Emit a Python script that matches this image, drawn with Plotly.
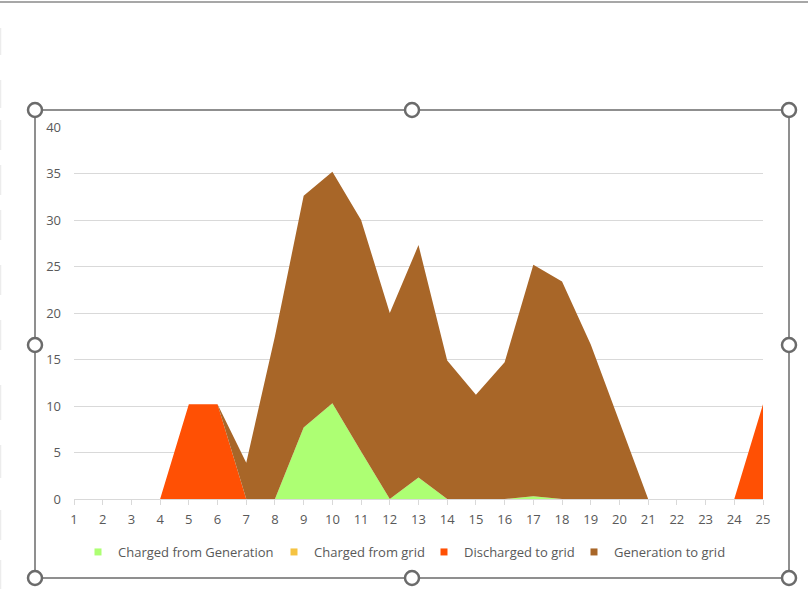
import plotly.graph_objects as go

hours = list(range(1, 26))
charged_from_generation = [0, 0, 0, 0, 0, 0, 0, 0, 7.7, 10.3, 5.1, 0, 2.3, 0, 0, 0, 0.3, 0, 0, 0, 0, 0, 0, 0, 0]
charged_from_grid = [0] * 25
discharged_to_grid = [0, 0, 0, 0, 10.2, 10.2, 0, 0, 0, 0, 0, 0, 0, 0, 0, 0, 0, 0, 0, 0, 0, 0, 0, 0, 10.2]
generation_to_grid = [0, 0, 0, 0, 0, 0, 3.9, 17.5, 24.9, 24.9, 24.9, 20.0, 25.0, 14.9, 11.2, 14.7, 24.9, 23.4, 16.6, 8.2, 0, 0, 0, 0, 0]
y_ticks = [0, 5, 10, 15, 20, 25, 30, 35, 40]

series = [
    ("Charged from Generation", charged_from_generation, "#ADFF73"),
    ("Charged from grid", charged_from_grid, "#F5C342"),
    ("Discharged to grid", discharged_to_grid, "#FF5004"),
    ("Generation to grid", generation_to_grid, "#A86628"),
]
legend_widths = [151, 105, 105, 110]

fig = go.Figure()
for i, (name, vals, col) in enumerate(series):
    fig.add_trace(go.Scatter(
        x=hours, y=vals, name=name, mode="lines", stackgroup="one",
        line=dict(width=0, color=col), fillcolor=col, showlegend=False,
        legendgroup=f"g{i}",
    ))
# legend entries with small square markers
for i, (name, vals, col) in enumerate(series):
    fig.add_trace(go.Scatter(
        x=[None], y=[None], name=name, mode="markers",
        marker=dict(symbol="square", size=7, color=col), legendgroup=f"g{i}",
        legendwidth=legend_widths[i],
    ))

W, H = 808, 589
L, R, T, B = 74, 763, 127, 499
pw, ph = R - L, B - T

def px(x):
    return (x - L) / pw

def py(y):
    return (B - y) / ph

shapes = []
# frame
shapes.append(dict(type="rect", xref="paper", yref="paper", x0=px(35), x1=px(789), y0=py(578), y1=py(110),
                   line=dict(color="#6b6b6b", width=1.5), fillcolor="rgba(0,0,0,0)", layer="above"))
# top window line
shapes.append(dict(type="line", xref="paper", yref="paper", x0=px(0), x1=px(808), y0=py(2), y1=py(2),
                   line=dict(color="#8a8a8a", width=1.5)))
# faint marks at left edge
for y0, y1 in [(28, 55), (80, 108), (120, 150), (165, 195), (210, 240), (265, 295), (320, 350),
               (385, 420), (445, 478), (510, 540), (560, 589)]:
    shapes.append(dict(type="line", xref="paper", yref="paper", x0=px(0.5), x1=px(0.5), y0=py(y0), y1=py(y1),
                       line=dict(color="#ececec", width=1.5)))
# handles
r = 7
for hx in (35, 412, 789):
    for hy in (110, 345, 578):
        if hx == 412 and hy == 345:
            continue
        shapes.append(dict(type="circle", xref="paper", yref="paper",
                           x0=px(hx - r), x1=px(hx + r), y0=py(hy + r), y1=py(hy - r),
                           line=dict(color="#6b6b6b", width=2.5), fillcolor="white", layer="above"))

fig.update_layout(
    width=W, height=H,
    margin=dict(l=L, r=W - R, t=T, b=H - B, autoexpand=False),
    paper_bgcolor="white", plot_bgcolor="white",
    font=dict(family="Open Sans, sans-serif", size=13, color="#595959"),
    showlegend=True,
    legend=dict(orientation="h", x=px(78), xanchor="left", y=py(552), yanchor="middle",
                traceorder="normal", font=dict(size=13, color="#595959"), itemwidth=30,
                tracegroupgap=0, itemclick=False, itemdoubleclick=False,
                bgcolor="rgba(0,0,0,0)"),
    shapes=shapes,
    xaxis=dict(range=[1, 25], tickmode="array", tickvals=hours, ticktext=[str(h) for h in hours],
               showgrid=False, zeroline=False, showline=True, linecolor="#d9d9d9", linewidth=1,
               ticks="outside", ticklen=5, tickcolor="#d9d9d9", tickfont=dict(size=13),
               ticklabelstandoff=3, fixedrange=True),
    yaxis=dict(range=[0, 40], tickmode="array", tickvals=y_ticks, showgrid=True, gridcolor="#d9d9d9",
               gridwidth=1, zeroline=False, showline=False, ticks="", ticklabelstandoff=12,
               tickfont=dict(size=13), fixedrange=True),
)

fig.write_html("out.html", config={"displayModeBar": False},
               post_script="document.body.style.margin='0';document.body.style.padding='0';")
